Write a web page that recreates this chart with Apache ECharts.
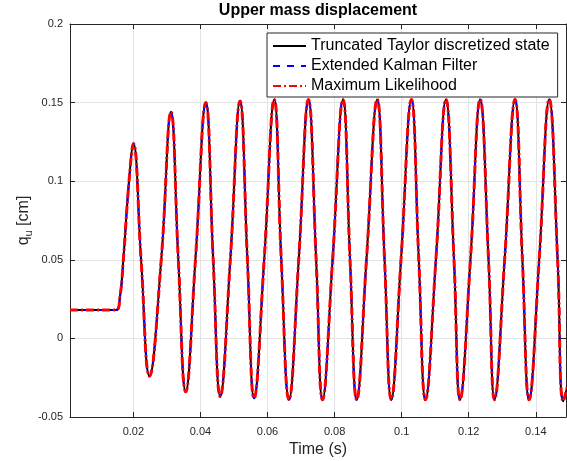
<!DOCTYPE html>
<html>
<head>
<meta charset="utf-8">
<script src="https://cdn.jsdelivr.net/npm/echarts@6/dist/echarts.min.js"></script>
<style>
html,body{margin:0;padding:0;background:#fff;}
#chart{width:567px;height:461px;}
</style>
</head>
<body>
<div id="chart"></div>
<script>
// Time (s)
const times = [
  0.0011, 0.0148, 0.0160, 0.0170, 0.0187, 0.0200,
  0.0223, 0.0248, 0.0283, 0.0312,
  0.0334, 0.0356, 0.0385, 0.0416,
  0.0438, 0.0459, 0.0489, 0.0518,
  0.0540, 0.0560, 0.0590, 0.0620,
  0.0641, 0.0664, 0.0693, 0.0722,
  0.0745, 0.0764, 0.0794, 0.0825,
  0.0846, 0.0866, 0.0895, 0.0927,
  0.0949, 0.0969, 0.0998, 0.1029,
  0.1051, 0.1071, 0.1102, 0.1132,
  0.1156, 0.1174, 0.1205, 0.1234,
  0.1259, 0.1277, 0.1307, 0.1338,
  0.1360, 0.1380, 0.1410, 0.1440,
  0.1465, 0.1482, 0.1500
];
// Upper mass displacement q_u [cm]
const values = [
  0.018, 0.018, 0.0265, 0.05, 0.10, 0.124,
  0.05, -0.024, 0.05, 0.144,
  0.05, -0.034, 0.05, 0.150,
  0.05, -0.037, 0.05, 0.151,
  0.05, -0.038, 0.05, 0.152,
  0.05, -0.039, 0.05, 0.152,
  0.05, -0.039, 0.05, 0.152,
  0.05, -0.039, 0.05, 0.152,
  0.05, -0.039, 0.05, 0.152,
  0.05, -0.039, 0.05, 0.152,
  0.05, -0.039, 0.05, 0.152,
  0.05, -0.039, 0.05, 0.152,
  0.05, -0.039, 0.05, 0.152,
  0.05, -0.040, -0.025
];
const seriesNames = ['Truncated Taylor discretized state', 'Extended Kalman Filter', 'Maximum Likelihood'];
const xTicks = [0.02, 0.04, 0.06, 0.08, 0.1, 0.12, 0.14];
const xRange = [0.0011, 0.149];
const yRange = [-0.05, 0.2];
const yStep = 0.05;

const pts = times.map((t, i) => [t, values[i]]);
const FONT = '"Liberation Sans", Arial, Helvetica, sans-serif';
const AX = '#262626';
const GRIDC = '#e3e3e3';

const chart = echarts.init(document.getElementById('chart'), null, {renderer: 'canvas'});
const xCommon = {
  type: 'value', min: xRange[0], max: xRange[1],
  axisLine: {show: true, onZero: false, lineStyle: {color: AX, width: 1}},
  axisTick: {show: true, inside: true, length: 5, customValues: xTicks, lineStyle: {color: AX}},
  splitLine: {show: true, lineStyle: {color: GRIDC, width: 1}}
};
const yCommon = {
  type: 'value', min: yRange[0], max: yRange[1], interval: yStep,
  axisLine: {show: true, onZero: false, lineStyle: {color: AX, width: 1}},
  axisTick: {show: true, inside: true, length: 5, lineStyle: {color: AX}},
  splitLine: {show: true, lineStyle: {color: GRIDC, width: 1}}
};
chart.setOption({
  animation: false,
  backgroundColor: '#fff',
  title: {
    text: 'Upper mass displacement',
    left: 318, top: 3, padding: 0, textAlign: 'center',
    textStyle: {fontFamily: FONT, fontSize: 16, fontWeight: 'bold', color: '#000'}
  },
  grid: {left: 70, right: 1, top: 24, bottom: 44, containLabel: false, outerBoundsMode: 'none'},
  legend: {
    orient: 'vertical', left: 267, top: 33,
    padding: [5, 8, 3, 5], itemGap: 4, itemWidth: 33, itemHeight: 14,
    backgroundColor: '#fff', borderColor: AX, borderWidth: 1, borderRadius: 0,
    itemStyle: {opacity: 0, borderWidth: 0},
    textStyle: {fontFamily: FONT, fontSize: 16, lineHeight: 14, color: '#000', padding: [0, 0, 0, 0]},
    data: seriesNames
  },
  xAxis: [
    Object.assign({}, xCommon, {
      position: 'bottom',
      name: 'Time (s)', nameLocation: 'middle', nameGap: 25, nameMoveOverlap: false,
      nameTextStyle: {fontFamily: FONT, fontSize: 16, color: AX},
      axisLabel: {show: true, customValues: xTicks, margin: 9, fontFamily: FONT, fontSize: 11, color: AX}
    }),
    Object.assign({}, xCommon, {
      position: 'top', axisLabel: {show: false}, splitLine: {show: false}
    })
  ],
  yAxis: [
    Object.assign({}, yCommon, {
      position: 'left',
      name: '{a|q}{s|u}{a| [cm]}', nameLocation: 'middle', nameGap: 36, nameMoveOverlap: false,
      nameTextStyle: {
        fontFamily: FONT, fontSize: 16, color: AX,
        rich: {
          a: {fontFamily: FONT, fontSize: 16, color: AX, lineHeight: 20, verticalAlign: 'middle'},
          s: {fontFamily: FONT, fontSize: 11, color: AX, lineHeight: 20, verticalAlign: 'bottom', padding: [0, 0, 0, 0]}
        }
      },
      axisLabel: {show: true, margin: 7, fontFamily: FONT, fontSize: 11, color: AX}
    }),
    Object.assign({}, yCommon, {
      position: 'right', axisLabel: {show: false}, splitLine: {show: false}
    })
  ],
  series: [
    {
      name: seriesNames[0], type: 'line', data: pts, symbol: 'none', smooth: 0.45, z: 2,
      xAxisIndex: 0, yAxisIndex: 0,
      lineStyle: {color: '#000000', width: 2, type: 'solid'}, itemStyle: {color: '#000000'}
    },
    {
      name: seriesNames[1], type: 'line', data: pts, symbol: 'none', smooth: 0.45, z: 3,
      xAxisIndex: 0, yAxisIndex: 0,
      lineStyle: {color: '#0000ff', width: 2, type: [7, 7]}, itemStyle: {color: '#0000ff'}
    },
    {
      name: seriesNames[2], type: 'line', data: pts, symbol: 'none', smooth: 0.45, z: 4,
      xAxisIndex: 0, yAxisIndex: 0,
      lineStyle: {color: '#ff0000', width: 3, type: [8, 3, 2, 3]}, itemStyle: {color: '#ff0000'}
    }
  ]
});
</script>
</body>
</html>
